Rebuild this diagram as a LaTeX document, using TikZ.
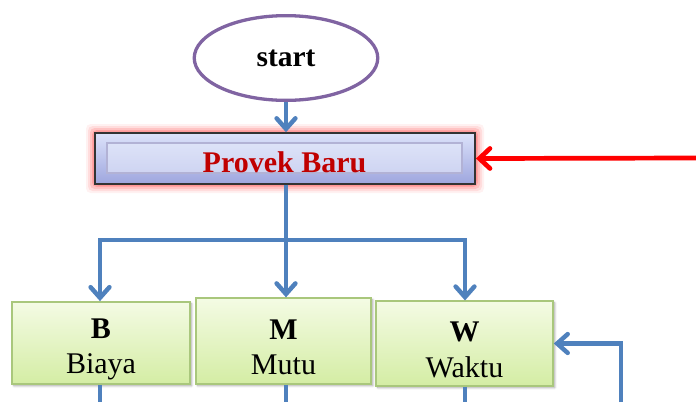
\documentclass[tikz,border=0pt]{standalone}
\usepackage{fontspec}
\setmainfont{Liberation Serif}
\usetikzlibrary{arrows.meta,shapes.geometric,shadows.blur}
\definecolor{linkblue}{HTML}{4F81BD}
\definecolor{startpurple}{HTML}{8064A2}
\definecolor{titlered}{HTML}{C00000}
\definecolor{boxtop}{HTML}{F4FBE4}
\definecolor{boxbot}{HTML}{D4EDA4}
\definecolor{boxline}{HTML}{A9C77C}
\definecolor{projtop}{HTML}{DCE2FA}
\definecolor{projbot}{HTML}{9EA6DE}
\tikzset{
  conn/.style={draw=linkblue, line width=3.8pt, -{Straight Barb[length=9pt,width=16pt,line cap=round]}},
  plain/.style={draw=linkblue, line width=3.8pt},
  redconn/.style={draw=red, line width=4pt, -{Straight Barb[length=9pt,width=17pt,line cap=round]}},
  greenbox/.style={draw=boxline, line width=1.2pt, top color=boxtop, bottom color=boxbot,
     inner sep=0pt,
     blur shadow={shadow xshift=1.5pt, shadow yshift=-1.5pt, shadow blur steps=5, shadow opacity=35}},
  boxtext/.style={align=center, inner sep=0pt, font=\fontsize{25.5pt}{30pt}\selectfont, yshift=-5.5pt},
}
\begin{document}
\begin{tikzpicture}[x=0.85pt,y=-0.85pt]
\useasboundingbox (0,0) rectangle (696,402);
% start ellipse
\node[ellipse, draw=startpurple, line width=2.8pt, minimum width=156pt, minimum height=72pt, inner sep=0pt,
      font=\bfseries\fontsize{25pt}{28pt}\selectfont] (start) at (286,58) {start};
% glow around project box
\foreach \g/\o in {9/0.08,7/0.12,5/0.18,3/0.25,1.5/0.3}{
  \fill[red!70, opacity=\o, rounded corners=4pt] (95-\g,133-\g) rectangle (475+\g,184+\g);
}
\node[draw=black!80, line width=1.6pt, top color=projtop, bottom color=projbot,
      minimum width=323pt, minimum height=43pt, inner sep=0pt] (proj) at (285,158.5) {};
\node[draw=black!55!blue!30, line width=1.3pt, minimum width=301.5pt, minimum height=25.5pt, inner sep=0pt,
      fill=projtop!70!white, fill opacity=0.6] (projin) at (284.5,158) {};
\node[text=titlered, inner sep=0pt, yshift=-3.5pt,
      font=\bfseries\fontsize{25.5pt}{27pt}\selectfont] (projt) at (projin) {Provek Baru};
% three boxes
\node[greenbox, minimum width=151pt, minimum height=70pt] (b) at (101,343) {};
\node[greenbox, minimum width=149pt, minimum height=73pt] (m) at (283.5,341) {};
\node[greenbox, minimum width=150.5pt, minimum height=72pt] (w) at (464.5,343.5) {};
\node[boxtext] (bt) at (b) {\textbf{B}\\Biaya};
\node[boxtext] (mt) at (m) {\textbf{M}\\Mutu};
\node[boxtext] (wt) at (w) {\textbf{W}\\Waktu};
% connectors
\coordinate (jL) at (100,240);
\coordinate (jM) at (286,240);
\coordinate (jR) at (465,240);
\coordinate (redsrc) at (696,158);
\coordinate (bEnd) at (100,402);
\coordinate (mEnd) at (286,402);
\coordinate (wEnd) at (465,402);
\coordinate (fb) at (621,402);
\draw[conn] (start.south) -- (start.south |- proj.north);
\draw[plain] (proj.south -| jM) -- (jM);
\draw[plain, line cap=rect] (jL) -- (jR);
\draw[conn] (jL) -- (jL |- b.north);
\draw[conn] (jM) -- (jM |- m.north);
\draw[conn] (jR) -- (jR |- w.north);
\draw[redconn] (redsrc) -- (proj.east);
\draw[plain] (bEnd |- b.south) -- (bEnd);
\draw[plain] (mEnd |- m.south) -- (mEnd);
\draw[plain] (wEnd |- w.south) -- (wEnd);
\draw[conn] (fb) |- (w.east);
\end{tikzpicture}
\end{document}
